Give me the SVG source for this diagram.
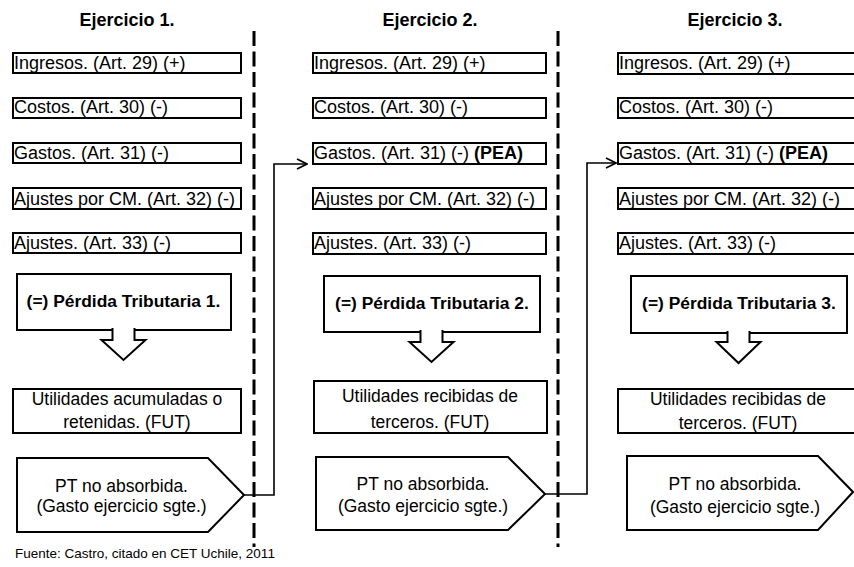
<svg xmlns="http://www.w3.org/2000/svg" width="854" height="567" viewBox="0 0 854 567">
  <defs>
    <marker id="open-arrow" viewBox="0 0 12 12" refX="11" refY="6" markerWidth="12" markerHeight="12" markerUnits="userSpaceOnUse" orient="auto">
      <path d="M1,1 L11,6 L1,11" fill="none" stroke="#000" stroke-width="1.6"/>
    </marker>
  </defs>
  <style>
    text { font-family: "Liberation Sans", Arial, sans-serif; fill: #000; }
    .hdr { font-size: 18px; font-weight: bold; text-anchor: middle; }
    .row { font-size: 18px; }
    .b { font-weight: bold; }
    .pt { font-size: 17.4px; font-weight: bold; text-anchor: middle; }
    .mid { font-size: 17.5px; text-anchor: middle; }
    .src { font-size: 13.5px; }
    .box { fill: #fff; stroke: #000; stroke-width: 2; }
    .sep { fill: none; stroke: #000; stroke-width: 3; stroke-dasharray: 15 5.5; }
    .link { fill: none; stroke: #000; stroke-width: 1.6; }
  </style>
  <rect width="854" height="567" fill="#fff"/>

  <!-- period separators -->
  <g id="separators">
    <line class="sep" x1="254" y1="31" x2="254" y2="547"/>
    <line class="sep" x1="558" y1="31" x2="558" y2="547"/>
  </g>

  <!-- ===== Ejercicio 1 ===== -->
  <g id="col1">
    <text class="hdr" x="127" y="26">Ejercicio 1.</text>
    <g id="c1-ingresos"><rect class="box" x="13" y="53" width="228" height="20"/><text class="row" x="14" y="69">Ingresos. (Art. 29) (+)</text></g>
    <g id="c1-costos"><rect class="box" x="13" y="98" width="228" height="20"/><text class="row" x="14" y="113">Costos. (Art. 30) (-)</text></g>
    <g id="c1-gastos"><rect class="box" x="13" y="143" width="228" height="20"/><text class="row" x="14" y="159">Gastos. (Art. 31) (-)</text></g>
    <g id="c1-ajustes-cm"><rect class="box" x="13" y="188" width="228" height="21"/><text class="row" x="14" y="205">Ajustes por CM. (Art. 32) (-)</text></g>
    <g id="c1-ajustes"><rect class="box" x="13" y="233" width="228" height="20"/><text class="row" x="14" y="249">Ajustes. (Art. 33) (-)</text></g>
    <g id="c1-perdida">
      <rect class="box" x="17" y="274" width="214" height="56"/>
      <text class="pt" x="123.5" y="307">(=) Pérdida Tributaria 1.</text>
      <path class="box" d="M134.5,328 V340 H145.5 L123.5,360 L101.5,340 H112.5 V328"/>
    </g>
    <g id="c1-utilidades">
      <rect class="box" x="13" y="389" width="228" height="44"/>
      <text class="mid" x="127" y="405">Utilidades acumuladas o</text>
      <text class="mid" x="127" y="428">retenidas. (FUT)</text>
    </g>
    <g id="c1-pt">
      <polygon class="box" points="17,458 208,458 244,495 208,532 17,532"/>
      <text class="mid" x="121.5" y="492">PT no absorbida.</text>
      <text class="mid" x="121.5" y="512">(Gasto ejercicio sgte.)</text>
    </g>
  </g>

  <!-- ===== Ejercicio 2 ===== -->
  <g id="col2">
    <text class="hdr" x="430" y="26">Ejercicio 2.</text>
    <g id="c2-ingresos"><rect class="box" x="313" y="53" width="233" height="20"/><text class="row" x="314" y="69">Ingresos. (Art. 29) (+)</text></g>
    <g id="c2-costos"><rect class="box" x="313" y="98" width="233" height="20"/><text class="row" x="314" y="113">Costos. (Art. 30) (-)</text></g>
    <g id="c2-gastos"><rect class="box" x="313" y="143" width="233" height="21"/><text class="row" x="314" y="159">Gastos. (Art. 31) (-) <tspan class="b">(PEA)</tspan></text></g>
    <g id="c2-ajustes-cm"><rect class="box" x="313" y="188" width="233" height="21"/><text class="row" x="314" y="205">Ajustes por CM. (Art. 32) (-)</text></g>
    <g id="c2-ajustes"><rect class="box" x="313" y="233" width="233" height="21"/><text class="row" x="314" y="249">Ajustes. (Art. 33) (-)</text></g>
    <g id="c2-perdida">
      <rect class="box" x="324" y="276" width="216" height="56"/>
      <text class="pt" x="432" y="309">(=) Pérdida Tributaria 2.</text>
      <path class="box" d="M442.5,330 V342 H453.5 L431.5,362 L409.5,342 H420.5 V330"/>
    </g>
    <g id="c2-utilidades">
      <rect class="box" x="314" y="381" width="233" height="52"/>
      <text class="mid" x="430" y="402">Utilidades recibidas de</text>
      <text class="mid" x="430" y="428">terceros. (FUT)</text>
    </g>
    <g id="c2-pt">
      <polygon class="box" points="316,457 508,457 545,494 508,530 316,530"/>
      <text class="mid" x="423" y="490">PT no absorbida.</text>
      <text class="mid" x="423" y="512">(Gasto ejercicio sgte.)</text>
    </g>
  </g>

  <!-- ===== Ejercicio 3 ===== -->
  <g id="col3">
    <text class="hdr" x="735" y="26">Ejercicio 3.</text>
    <g id="c3-ingresos"><rect class="box" x="618" y="53" width="240" height="21"/><text class="row" x="619" y="69">Ingresos. (Art. 29) (+)</text></g>
    <g id="c3-costos"><rect class="box" x="618" y="98" width="240" height="20"/><text class="row" x="619" y="113">Costos. (Art. 30) (-)</text></g>
    <g id="c3-gastos"><rect class="box" x="618" y="143" width="240" height="21"/><text class="row" x="619" y="159">Gastos. (Art. 31) (-) <tspan class="b">(PEA)</tspan></text></g>
    <g id="c3-ajustes-cm"><rect class="box" x="618" y="188" width="240" height="21"/><text class="row" x="619" y="205">Ajustes por CM. (Art. 32) (-)</text></g>
    <g id="c3-ajustes"><rect class="box" x="618" y="233" width="240" height="21"/><text class="row" x="619" y="249">Ajustes. (Art. 33) (-)</text></g>
    <g id="c3-perdida">
      <rect class="box" x="631" y="276" width="216" height="57"/>
      <text class="pt" x="739" y="309">(=) Pérdida Tributaria 3.</text>
      <path class="box" d="M749.5,331 V342 H760.5 L738.5,363 L716.5,342 H727.5 V331"/>
    </g>
    <g id="c3-utilidades">
      <rect class="box" x="618" y="389" width="240" height="44"/>
      <text class="mid" x="738" y="405">Utilidades recibidas de</text>
      <text class="mid" x="738" y="429">terceros. (FUT)</text>
    </g>
    <g id="c3-pt">
      <polygon class="box" points="627,456 818,456 853,492 818,530 627,530"/>
      <text class="mid" x="735" y="490">PT no absorbida.</text>
      <text class="mid" x="735" y="513">(Gasto ejercicio sgte.)</text>
    </g>
  </g>

  <!-- carry-forward connectors -->
  <g id="connectors">
    <polyline class="link" points="244,495 274,495 274,164 307,164" marker-end="url(#open-arrow)"/>
    <polyline class="link" points="545,494 587,494 587,163 616,163" marker-end="url(#open-arrow)"/>
  </g>

  <text class="src" x="15" y="558">Fuente: Castro, citado en CET Uchile, 2011</text>
</svg>
